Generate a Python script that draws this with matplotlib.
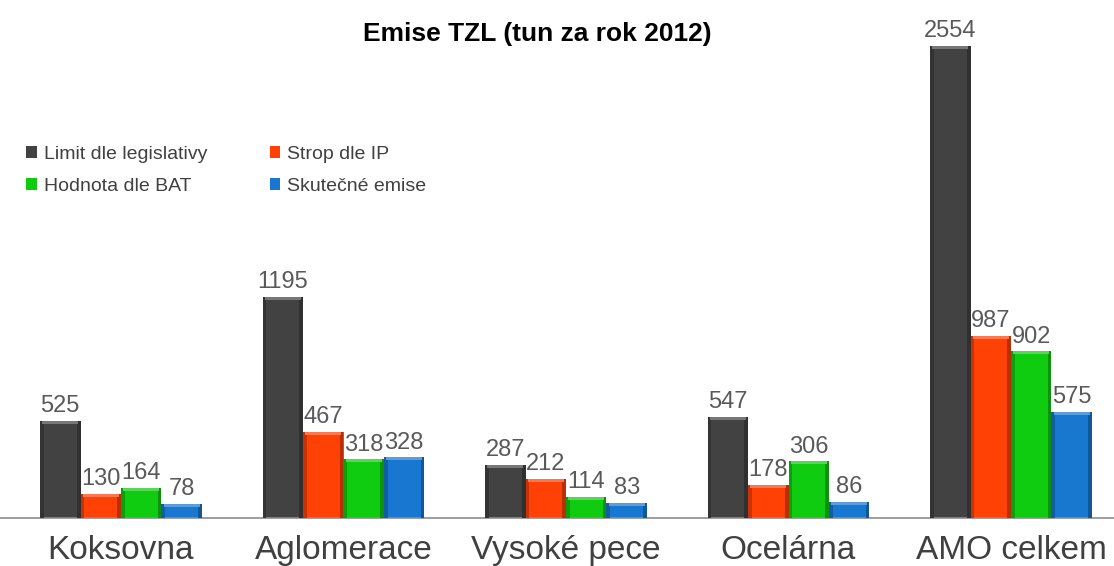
import matplotlib.pyplot as plt
import numpy as np
from matplotlib.colors import to_rgb

plt.rcParams["font.family"] = ["Liberation Sans", "DejaVu Sans"]

categories = ["Koksovna", "Aglomerace", "Vysoké pece", "Ocelárna", "AMO celkem"]
series_names = ["Limit dle legislativy", "Strop dle IP", "Hodnota dle BAT", "Skutečné emise"]
limit_legislativa = [525, 1195, 287, 547, 2554]
strop_ip = [130, 467, 212, 178, 987]
hodnota_bat = [164, 318, 114, 306, 902]
skutecne_emise = [78, 328, 83, 86, 575]
series_values = [limit_legislativa, strop_ip, hodnota_bat, skutecne_emise]

colors = ["#424242", "#ff4106", "#10cc10", "#1877d0"]


def shade(color, factor):
    rgb = np.array(to_rgb(color))
    if factor < 1:
        return tuple(rgb * factor)
    return tuple(rgb + (1 - rgb) * (factor - 1))


fig = plt.figure(figsize=(11.14, 5.66), dpi=100)
ax = fig.add_axes([0, 48 / 566, 1, 518 / 566])

x = np.arange(len(categories))
width = 0.182
offsets = (np.arange(4) - 1.5) * width

handles = []
for i, (vals, col) in enumerate(zip(series_values, colors)):
    pos = x + offsets[i]
    vals = np.array(vals)
    h = ax.bar(pos, vals, width, color=col, linewidth=0, zorder=2)
    handles.append(h)
    # fake bevel: darker sides, lighter top band
    edge = width * 0.09
    ax.bar(pos - width / 2 + edge / 2, vals, edge, color=shade(col, 0.78), linewidth=0, zorder=3)
    ax.bar(pos + width / 2 - edge / 2, vals, edge, color=shade(col, 0.72), linewidth=0, zorder=3)
    ax.bar(pos, np.full(len(vals), 16.0), width * 0.9, bottom=vals - 16,
           color=shade(col, 1.28), linewidth=0, zorder=4)
    for p, v in zip(pos, vals):
        ax.text(p, v + 20, str(v), ha="center", va="bottom", fontsize=17, color="#595959")

ax.set_xlim(-121 / 222.5, (1114 - 121) / 222.5)
ax.set_ylim(0, 518 / 0.1848)

for s in ["top", "right", "left"]:
    ax.spines[s].set_visible(False)
ax.spines["bottom"].set_color("#8c8c8c")
ax.spines["bottom"].set_linewidth(1.2)
ax.set_yticks([])
ax.set_xticks(x)
ax.set_xticklabels(categories, fontsize=24, color="#404040")
ax.tick_params(axis="x", length=0, pad=12)

fig.text(0.482, 0.94, "Emise TZL (tun za rok 2012)", ha="center", va="center",
         fontsize=19, fontweight="bold", color="black")

# legend fills by column, so reorder to get two rows like the original
order = [0, 2, 1, 3]
leg = ax.legend([handles[k] for k in order], [series_names[k] for k in order],
                loc="upper left", bbox_to_anchor=(0.008, 0.752),
                ncol=2, frameon=False, fontsize=14, handlelength=0.55, handleheight=0.55,
                handletextpad=0.35, columnspacing=3.2, labelspacing=0.75)
for t in leg.get_texts():
    t.set_color("#404040")

fig.savefig("out.png", dpi=100, facecolor="white")
